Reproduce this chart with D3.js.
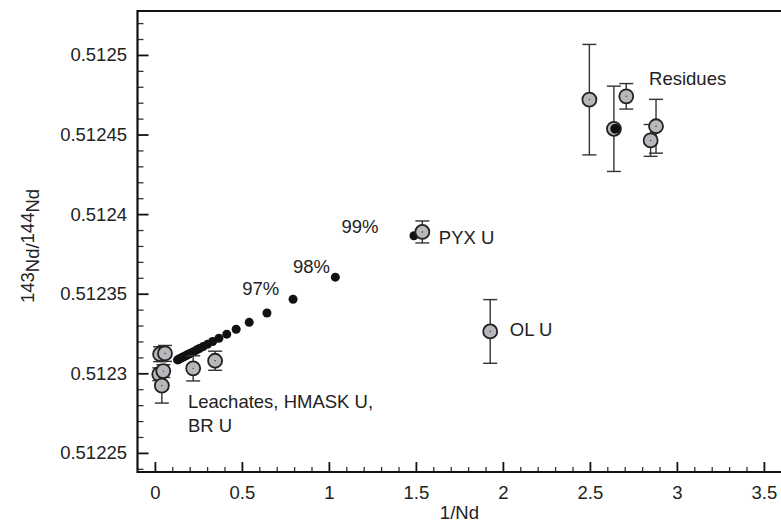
<!DOCTYPE html>
<html><head><meta charset="utf-8">
<script src="https://cdn.jsdelivr.net/npm/d3@7"></script>
<style>body{margin:0;background:#fff}svg{display:block}text{font-family:"Liberation Sans",Arial,sans-serif;fill:#222}</style>
</head><body><svg id="c" width="781" height="524"></svg>
<script>
// mixing-line (black dots)
const mixX = [0.130,0.136,0.142,0.149,0.157,0.165,0.174,0.184,0.195,0.208,0.222,0.238,0.256,0.277,0.302,0.332,0.368,0.413,0.467,0.542,0.644,0.794,1.037,1.489];
const mixY = [0.5123084,0.5123087,0.5123091,0.5123095,0.5123099,0.5123104,0.5123109,0.5123115,0.5123121,0.5123128,0.5123136,0.5123146,0.5123156,0.5123168,0.5123182,0.5123200,0.5123220,0.5123246,0.5123277,0.5123320,0.5123379,0.5123465,0.5123604,0.5123864];
// measured samples (grey circles)
const leachX = [0.030,0.058,0.025,0.048,0.040,0.220,0.346];
const leachY = [0.5123120,0.5123125,0.5122994,0.5123014,0.5122923,0.5123031,0.5123079];
const leachErr = [0.0000047,0.0000050,0.0000040,0.0000040,0.0000110,0.0000079,0.0000060];
const pyxX = [1.537], pyxY = [0.5123888], pyxErr = [0.0000069];
const olX = [1.927], olY = [0.5123263], olErr = [0.0000200];
const resX = [2.497,2.638,2.709,2.880,2.849];
const resY = [0.5124719,0.5124536,0.5124740,0.5124552,0.5124463];
const resErr = [0.0000347,0.0000268,0.0000080,0.0000169,0.0000100];
const resDotX = [2.646], resDotY = [0.5124536];
// ticks
const xTicks = [0,0.5,1,1.5,2,2.5,3,3.5];
const xTickLabels = ["0","0.5","1","1.5","2","2.5","3","3.5"];
const yTicks = [0.51225,0.5123,0.51235,0.5124,0.51245,0.5125];
const yTickLabels = ["0.51225","0.5123","0.51235","0.5124","0.51245","0.5125"];
// labels
const annText = ["97%","98%","99%","PYX U","OL U","Residues"];
const annX = [0.608,0.900,1.179,1.632,2.040,2.840];
const annY = [0.5123495,0.5123632,0.5123883,0.5123810,0.5123236,0.5124813];

const L=137.5, T=11, B=472;
const x = d3.scaleLinear().domain([-0.1,3.7]).range([L, L+3.8*174]);
const y = d3.scaleLinear().domain([0.512238,0.5125276]).range([B,T]);
const svg = d3.select("#c");
const fs = 18.5;

// minor ticks
const g = svg.append("g");
const xMinor = d3.range(0,37).map(i=>i/10).filter(v=>Math.abs(v*2-Math.round(v*2))>1e-6);
const yMinor = d3.range(0,30).map(i=>0.51224+i*0.00001).filter(v=>v<0.5125276 && Math.abs((v-0.51225)/0.00005-Math.round((v-0.51225)/0.00005))>1e-3);
g.append("g").attr("transform",`translate(0,${B})`)
 .call(d3.axisBottom(x).tickValues(xMinor).tickSize(-5).tickFormat(""))
 .call(a=>a.select(".domain").remove()).selectAll("line").attr("stroke","#333").attr("stroke-width",1.3);
g.append("g").attr("transform",`translate(${L},0)`)
 .call(d3.axisLeft(y).tickValues(yMinor).tickSize(-6).tickFormat(""))
 .call(a=>a.select(".domain").remove()).selectAll("line").attr("stroke","#333").attr("stroke-width",1.3);
// major ticks
const xa = g.append("g").attr("transform",`translate(0,${B})`)
 .call(d3.axisBottom(x).tickValues(xTicks).tickSize(-10).tickPadding(13.5).tickFormat((d,i)=>xTickLabels[i]));
xa.select(".domain").remove();
xa.selectAll("line").attr("stroke","#111").attr("stroke-width",1.8);
xa.selectAll("text").attr("font-size",fs).attr("font-family","Liberation Sans, Arial, sans-serif").attr("fill","#222");
const ya = g.append("g").attr("transform",`translate(${L},0)`)
 .call(d3.axisLeft(y).tickValues(yTicks).tickSize(-11).tickPadding(10.5).tickFormat((d,i)=>yTickLabels[i]));
ya.select(".domain").remove();
ya.selectAll("line").attr("stroke","#111").attr("stroke-width",1.8);
ya.selectAll("text").attr("font-size",fs).attr("font-family","Liberation Sans, Arial, sans-serif").attr("fill","#222");

// frame
svg.append("path").attr("d",`M${L+900},${T}H${L}V${B}H${L+900}`).attr("fill","none").attr("stroke","#111").attr("stroke-width",2.2);

// axis titles
svg.append("text").attr("x",x(1.75)).attr("y",519).attr("text-anchor","middle").attr("font-size",fs).text("1/Nd");
const yt = svg.append("text").attr("transform","translate(34,246) rotate(-90)").attr("text-anchor","middle").attr("font-size",fs);
yt.append("tspan").text("143");
yt.append("tspan").attr("dy",5).text("Nd/");
yt.append("tspan").attr("dy",-5).text("144");
yt.append("tspan").attr("dy",5).text("Nd");

// mixing dots
svg.append("g").selectAll("circle").data(mixX).join("circle")
 .attr("cx",d=>x(d)).attr("cy",(d,i)=>y(mixY[i])).attr("r",4.5).attr("fill","#111");

// samples
function samples(xs,ys,es){
  const gg = svg.append("g");
  xs.forEach((xv,i)=>{
    const cx=x(xv), y1=y(ys[i]+es[i]), y2=y(ys[i]-es[i]);
    gg.append("line").attr("x1",cx).attr("x2",cx).attr("y1",y1).attr("y2",y2).attr("stroke","#333").attr("stroke-width",1.4);
    [y1,y2].forEach(yy=>gg.append("line").attr("x1",cx-7).attr("x2",cx+7).attr("y1",yy).attr("y2",yy).attr("stroke","#333").attr("stroke-width",1.4));
  });
  xs.forEach((xv,i)=>{
    gg.append("circle").attr("cx",x(xv)).attr("cy",y(ys[i])).attr("r",7).attr("fill","#b7b8bc").attr("stroke","#222").attr("stroke-width",1.8);
    gg.append("circle").attr("cx",x(xv)).attr("cy",y(ys[i])).attr("r",0.7).attr("fill","#333");
  });
}
samples(leachX,leachY,leachErr);
samples(pyxX,pyxY,pyxErr);
samples(olX,olY,olErr);
samples(resX,resY,resErr);
svg.append("g").selectAll("circle").data(resDotX).join("circle")
 .attr("cx",d=>x(d)).attr("cy",(d,i)=>y(resDotY[i])).attr("r",5).attr("fill","#111");

// annotations
svg.append("g").selectAll("text").data(annText).join("text")
 .attr("x",(d,i)=>x(annX[i])).attr("y",(d,i)=>y(annY[i])).attr("font-size",fs)
 .attr("text-anchor",(d,i)=>i<3?"middle":"start").text(d=>d);
const lt = svg.append("text").attr("x",188).attr("font-size",fs);
lt.append("tspan").attr("x",188).attr("y",408).text("Leachates, HMASK U,");
lt.append("tspan").attr("x",188).attr("y",432).text("BR U");
</script></body></html>
